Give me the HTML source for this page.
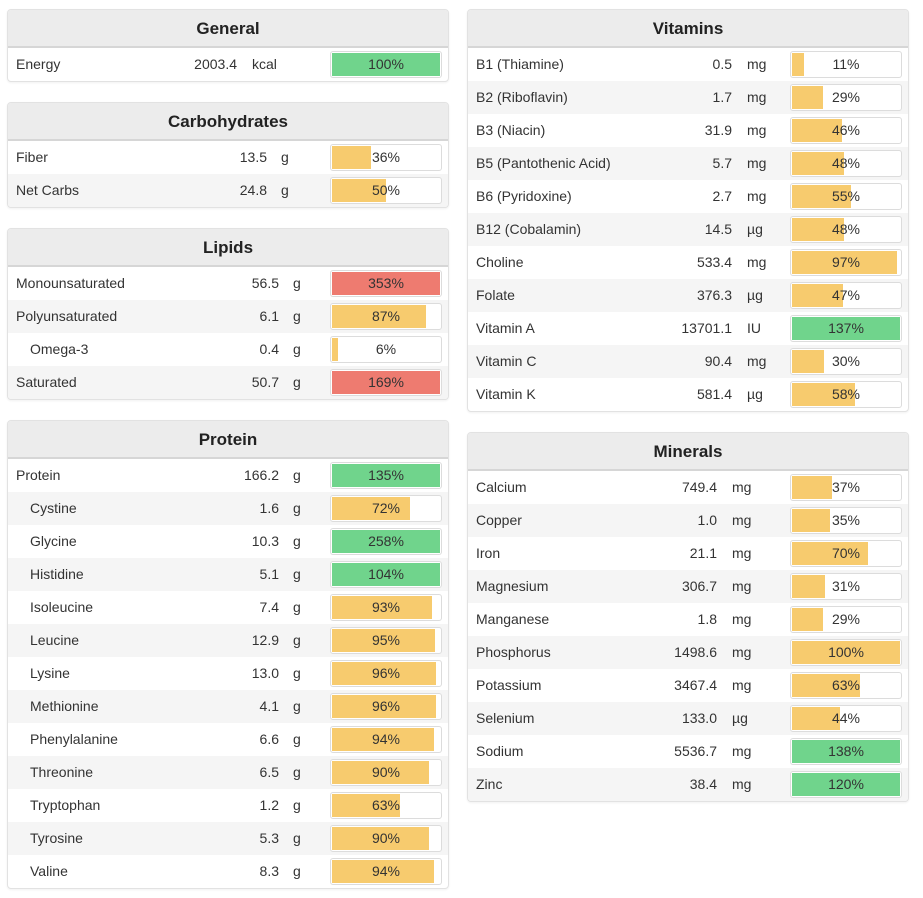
<!DOCTYPE html>
<html><head><meta charset="utf-8"><style>
body{margin:0;width:923px;height:898px;background:#fff;font-family:"Liberation Sans",sans-serif;color:#333;position:relative;overflow:hidden}
.panel{position:absolute;border:1px solid #e2e2e2;border-radius:4px;background:#fff;box-shadow:0 1px 2px rgba(0,0,0,.06);overflow:hidden}
.hdr{height:36px;background:#ececec;border-bottom:2px solid #d6d6d6;text-align:center;font-weight:bold;font-size:17px;line-height:37px;color:#222}
.row{position:absolute;left:0;right:0;height:33px;font-size:14px;line-height:33px}
.row.alt{background:#f5f5f5}
.row span{position:absolute;white-space:nowrap}
.bar{position:absolute;top:3px;height:25px;border:1px solid #dcdcdc;border-radius:3px;background:#fff;overflow:hidden}
.fill{position:absolute;left:1px;top:1px;bottom:1px}
.pct{position:absolute;left:0;right:0;top:0;text-align:center;line-height:25px;font-size:14px;color:#333}
</style></head><body>
<script>
const panelTitles=["General","Carbohydrates","Lipids","Protein","Vitamins","Minerals"];
const names=[
["Energy"],["Fiber","Net Carbs"],["Monounsaturated","Polyunsaturated","Omega-3","Saturated"],
["Protein","Cystine","Glycine","Histidine","Isoleucine","Leucine","Lysine","Methionine","Phenylalanine","Threonine","Tryptophan","Tyrosine","Valine"],
["B1 (Thiamine)","B2 (Riboflavin)","B3 (Niacin)","B5 (Pantothenic Acid)","B6 (Pyridoxine)","B12 (Cobalamin)","Choline","Folate","Vitamin A","Vitamin C","Vitamin K"],
["Calcium","Copper","Iron","Magnesium","Manganese","Phosphorus","Potassium","Selenium","Sodium","Zinc"]];
const amounts=[["2003.4"],["13.5","24.8"],["56.5","6.1","0.4","50.7"],
["166.2","1.6","10.3","5.1","7.4","12.9","13.0","4.1","6.6","6.5","1.2","5.3","8.3"],
["0.5","1.7","31.9","5.7","2.7","14.5","533.4","376.3","13701.1","90.4","581.4"],
["749.4","1.0","21.1","306.7","1.8","1498.6","3467.4","133.0","5536.7","38.4"]];
const units=[["kcal"],["g","g"],["g","g","g","g"],
["g","g","g","g","g","g","g","g","g","g","g","g","g"],
["mg","mg","mg","mg","mg","µg","mg","µg","IU","mg","µg"],
["mg","mg","mg","mg","mg","mg","mg","µg","mg","mg"]];
const percents=[[100],[36,50],[353,87,6,169],
[135,72,258,104,93,95,96,96,94,90,63,90,94],
[11,29,46,48,55,48,97,47,137,30,58],
[37,35,70,31,29,100,63,44,138,120]];
const kinds=[["g"],["y","y"],["r","y","y","r"],
["g","y","g","g","y","y","y","y","y","y","y","y","y"],
["y","y","y","y","y","y","y","y","g","y","y"],
["y","y","y","y","y","y","y","y","g","g"]];
const indented=[[0],[0,0],[0,0,1,0],[0,1,1,1,1,1,1,1,1,1,1,1,1],[],[]];
</script>
<script>
const layout=[{x:7,y:9,w:440,vEnd:229,u:244,bx:322},{x:7,y:102,w:440,vEnd:259,u:273,bx:322},
{x:7,y:228,w:440,vEnd:271,u:285,bx:322},{x:7,y:420,w:440,vEnd:271,u:285,bx:322},
{x:467,y:9,w:440,vEnd:264,u:279,bx:322},{x:467,y:432,w:440,vEnd:249,u:264,bx:322}];
const colors={g:"#70d48c",y:"#f7cb6e",r:"#ee7b70"};
const slug=s=>s.toLowerCase().replace(/[^a-z0-9]+/g,'-').replace(/^-|-$/g,'');
panelTitles.forEach((t,p)=>{
  const L=layout[p],n=names[p].length;
  const pan=document.createElement('div');pan.className='panel';
  
  
  pan.style.cssText=`left:${L.x}px;top:${L.y}px;width:${L.w}px;height:${38+n*33}px`;
  const h=document.createElement('div');h.className='hdr';h.textContent=t;
  
  
  pan.appendChild(h);
  names[p].forEach((nm,i)=>{
    const r=document.createElement('div');r.className='row'+(i%2?' alt':'');
    
    
    r.style.top=(38+i*33)+'px';
    const ind=(indented[p][i]?14:0);
    r.innerHTML=`<span style="left:${8+ind}px">${nm}</span><span style="right:${L.w-L.vEnd}px">${amounts[p][i]}</span><span style="left:${L.u}px">${units[p][i]}</span>`;
    const pc=percents[p][i];
    const b=document.createElement('div');b.className='bar';
    
    
    b.style.left=L.bx+'px';b.style.width='110px';
    const f=document.createElement('div');f.className='fill';
    f.style.width=(Math.min(pc,100)/100*108)+'px';f.style.background=colors[kinds[p][i]];
    b.appendChild(f);
    const tx=document.createElement('div');tx.className='pct';tx.textContent=pc+'%';b.appendChild(tx);
    r.appendChild(b);
    pan.appendChild(r);
  });
  document.body.appendChild(pan);
});
</script>
</body></html>
